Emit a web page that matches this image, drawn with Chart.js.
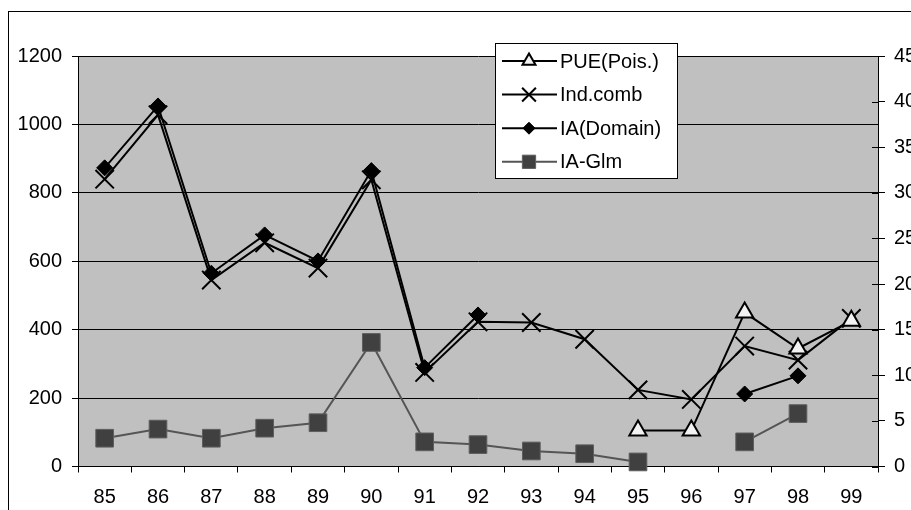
<!DOCTYPE html>
<html>
<head>
<meta charset="utf-8">
<script src="https://cdn.jsdelivr.net/npm/chart.js@4/dist/chart.umd.min.js"></script>
<style>
  html, body { margin: 0; padding: 0; background: #fff; overflow: hidden; }
  #wrap { position: relative; width: 911px; height: 510px; }
</style>
</head>
<body>
<div id="wrap"><canvas id="myChart" width="911" height="510"></canvas></div>
<script>
// 연도 (x축)
const years = ['85', '86', '87', '88', '89', '90', '91', '92', '93', '94', '95', '96', '97', '98', '99'];

// 왼쪽 축 (0 ~ 1200)
const pueValues    = [null, null, null, null, null, null, null, null, null, null, 105, 105, 450, 345, 426];
const indCombValues = [840, 1028, 545, 654, 580, 838, 275, 423, 421, 372, 224, 196, 352, 311, 433];
const iaDomainValues = [873, 1054, 565, 677, 601, 865, 289, 443, null, null, null, null, 212, 265, null];

// 오른쪽 축 (0 ~ 45)
const iaGlmValues = [3.1, 4.1, 3.1, 4.2, 4.8, 13.6, 2.7, 2.4, 1.7, 1.4, 0.5, null, 2.7, 5.8, null];

const FONT = '"Liberation Sans", Arial, sans-serif';

// 회색 배경 + 바깥 테두리
const plotBackground = {
  id: 'plotBackground',
  beforeDraw(chart) {
    const { ctx, chartArea: a } = chart;
    ctx.save();
    ctx.fillStyle = '#fff';
    ctx.fillRect(0, 0, chart.width, chart.height);
    ctx.strokeStyle = '#000';
    ctx.lineWidth = 1;
    ctx.strokeRect(8.5, 11.5, chart.width + 20, chart.height + 20);
    ctx.fillStyle = '#c0c0c0';
    ctx.fillRect(a.left, a.top, a.right - a.left, a.bottom - a.top);
    ctx.restore();
  }
};

// 오른쪽 축 눈금은 축선을 가로질러 안쪽으로도 조금 나옴
const innerTicks = {
  id: 'innerTicks',
  afterDraw(chart) {
    const ctx = chart.ctx;
    const s = chart.scales.y1;
    ctx.save();
    ctx.strokeStyle = '#000';
    ctx.lineWidth = 1;
    s.ticks.forEach(t => {
      const py = Math.round(s.getPixelForValue(t.value)) + 0.5;
      ctx.beginPath();
      ctx.moveTo(s.left - 6, py);
      ctx.lineTo(s.left, py);
      ctx.stroke();
    });
    ctx.restore();
  }
};

// 범례 상자 (차트 안쪽)
const boxLegend = {
  id: 'boxLegend',
  afterDraw(chart) {
    const ctx = chart.ctx;
    ctx.save();
    ctx.fillStyle = '#fff';
    ctx.fillRect(495.5, 43.5, 182, 135);
    ctx.strokeStyle = '#000';
    ctx.lineWidth = 1;
    ctx.strokeRect(495.5, 43.5, 182, 135);
    chart.data.datasets.forEach((ds, i) => {
      const cy = 61 + i * 33.6;
      ctx.strokeStyle = ds.borderColor;
      ctx.lineWidth = ds.borderWidth;
      ctx.beginPath();
      ctx.moveTo(502, cy);
      ctx.lineTo(557, cy);
      ctx.stroke();
      ctx.fillStyle = ds.pointBackgroundColor;
      ctx.strokeStyle = ds.pointBorderColor;
      ctx.lineWidth = ds.pointBorderWidth;
      Chart.helpers.drawPoint(ctx, {
        pointStyle: ds.pointStyle,
        radius: ds.pointRadius * 0.75,
        borderWidth: ds.pointBorderWidth
      }, 529, cy);
      ctx.fillStyle = '#000';
      ctx.font = '20px ' + FONT;
      ctx.textBaseline = 'middle';
      ctx.textAlign = 'left';
      ctx.fillText(ds.label, 560, cy + 1);
    });
    ctx.restore();
  }
};

const plainNumber = v => String(v);

const ctx = document.getElementById('myChart').getContext('2d');
const myChart = new Chart(ctx, {
  type: 'line',
  data: {
    labels: years,
    datasets: [{
      label: 'PUE(Pois.)',
      data: pueValues,
      yAxisID: 'y',
      borderColor: '#000',
      borderWidth: 2,
      pointStyle: 'triangle',
      pointRadius: 10,
      pointBackgroundColor: '#f2f2f2',
      pointBorderColor: '#000',
      pointBorderWidth: 2,
      clip: false
    }, {
      label: 'Ind.comb',
      data: indCombValues,
      yAxisID: 'y',
      borderColor: '#000',
      borderWidth: 2,
      pointStyle: 'crossRot',
      pointRadius: 13,
      pointBackgroundColor: '#000',
      pointBorderColor: '#000',
      pointBorderWidth: 2,
      clip: false
    }, {
      label: 'IA(Domain)',
      data: iaDomainValues,
      yAxisID: 'y',
      borderColor: '#000',
      borderWidth: 2,
      pointStyle: 'rectRot',
      pointRadius: 8,
      pointBackgroundColor: '#000',
      pointBorderColor: '#000',
      pointBorderWidth: 1,
      clip: false
    }, {
      label: 'IA-Glm',
      data: iaGlmValues,
      yAxisID: 'y1',
      borderColor: '#555555',
      borderWidth: 2,
      pointStyle: 'rect',
      pointRadius: 12.5,
      pointBackgroundColor: '#404040',
      pointBorderColor: '#5e5e5e',
      pointBorderWidth: 1,
      clip: false
    }]
  },
  options: {
    responsive: false,
    animation: false,
    devicePixelRatio: 1,
    layout: { padding: { top: 56, left: 0, right: 0, bottom: 0 } },
    elements: { line: { tension: 0 } },
    plugins: {
      legend: { display: false },
      tooltip: { enabled: false }
    },
    scales: {
      x: {
        offset: true,
        grid: { offset: true, drawOnChartArea: false, drawTicks: true, tickLength: 6, color: '#000' },
        border: { color: '#000', width: 1 },
        ticks: { color: '#000', font: { family: FONT, size: 20 }, padding: 13, maxRotation: 0 },
        afterFit(scale) { scale.height = 43.5; }
      },
      y: {
        position: 'left',
        min: 0,
        max: 1200,
        ticks: { stepSize: 200, color: '#000', font: { family: FONT, size: 20 }, padding: 10, callback: plainNumber },
        grid: { color: '#000', tickLength: 6 },
        border: { color: '#000', width: 1 },
        afterFit(scale) { scale.width = 78; }
      },
      y1: {
        position: 'right',
        min: 0,
        max: 45,
        ticks: { stepSize: 5, color: '#000', font: { family: FONT, size: 20 }, padding: 9, callback: plainNumber },
        grid: { drawOnChartArea: false, color: '#000', tickLength: 7 },
        border: { color: '#000', width: 1 },
        afterFit(scale) { scale.width = 33; }
      }
    }
  },
  plugins: [plotBackground, innerTicks, boxLegend]
});
</script>
</body>
</html>
